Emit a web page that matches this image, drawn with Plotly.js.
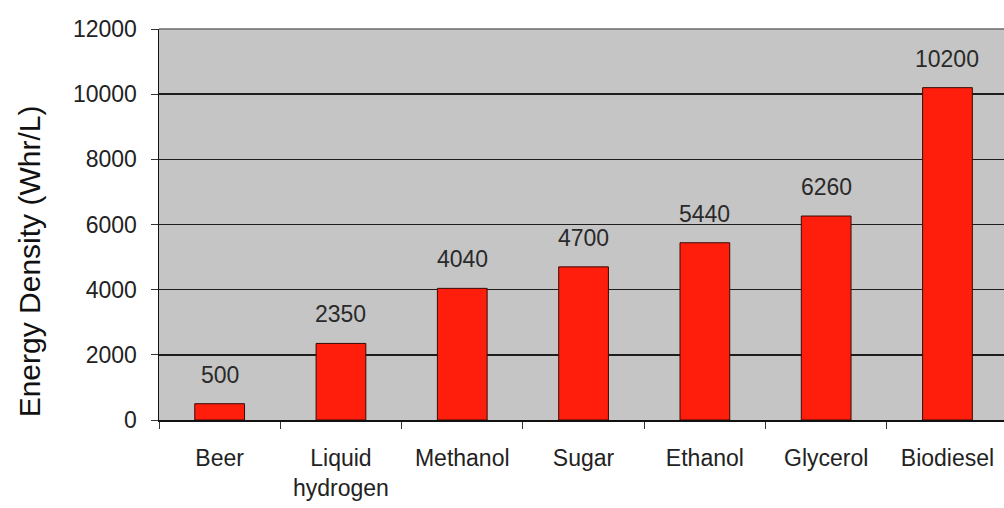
<!DOCTYPE html>
<html>
<head>
<meta charset="utf-8">
<script src="https://cdn.plot.ly/plotly-3.0.1.min.js"></script>
<style>
  html, body { margin: 0; padding: 0; background: #ffffff; }
  #chart { width: 1004px; height: 508px; }
</style>
</head>
<body>
<div id="chart"></div>
<script>
// Energy density of liquid fuels, watt-hours per litre
const fuels = ["Beer", "Liquid<br>hydrogen", "Methanol", "Sugar", "Ethanol", "Glycerol", "Biodiesel"];
const energyDensity = [500, 2350, 4040, 4700, 5440, 6260, 10200];
const yTicks = [0, 2000, 4000, 6000, 8000, 10000, 12000];
const yTitle = "Energy Density (Whr/L)";

const FONT = "Liberation Sans, Arial, sans-serif";

const bars = {
  type: "bar",
  x: fuels,
  y: energyDensity,
  width: 0.41,
  marker: { color: "#ff1e0c", line: { color: "#3a0a05", width: 1 } },
  hoverinfo: "x+y"
};

// value labels floating above each bar
const valueLabels = fuels.map((f, i) => ({
  x: f,
  y: energyDensity[i],
  text: String(energyDensity[i]),
  showarrow: false,
  yanchor: "middle",
  yshift: 29,
  font: { family: FONT, size: 23, color: "#2a2a2a" }
}));

// vertical axis title, set a little below the middle of the axis
const titleLabel = {
  xref: "paper", yref: "paper",
  x: -0.153, y: 0.405,
  xanchor: "center", yanchor: "middle",
  textangle: -90,
  text: yTitle,
  showarrow: false,
  font: { family: FONT, size: 30, color: "#111111" }
};

const layout = {
  width: 1004,
  height: 508,
  margin: { l: 159, r: 0, t: 29, b: 88 },
  paper_bgcolor: "#ffffff",
  plot_bgcolor: "#c5c5c5",
  showlegend: false,
  font: { family: FONT, size: 23, color: "#222222" },
  xaxis: {
    type: "category",
    range: [-0.5, 6.466],
    tickson: "boundaries",
    ticks: "outside",
    ticklen: 7,
    tickwidth: 1,
    tickcolor: "#333333",
    ticklabelstandoff: 17,
    showline: true,
    linecolor: "#111111",
    linewidth: 1.5,
    showgrid: false,
    tickfont: { family: FONT, size: 23, color: "#222222" },
    fixedrange: true
  },
  yaxis: {
    range: [0, 12000],
    tickvals: yTicks,
    ticktext: yTicks.map(String),
    ticks: "outside",
    ticklen: 7,
    tickcolor: "#333333",
    ticklabelstandoff: 9,
    showline: true,
    linecolor: "#111111",
    linewidth: 1.5,
    showgrid: true,
    gridcolor: "#1e1e1e",
    gridwidth: 1.5,
    zeroline: false,
    tickfont: { family: FONT, size: 23, color: "#222222" },
    fixedrange: true
  },
  shapes: [{
    // top border of the plotting area
    type: "line", xref: "paper", yref: "paper",
    x0: 0, x1: 1, y0: 1, y1: 1,
    line: { color: "#6a6a6a", width: 1.5 }
  }],
  annotations: valueLabels.concat([titleLabel])
};

Plotly.newPlot("chart", [bars], layout, { displayModeBar: false, staticPlot: true });
</script>
</body>
</html>
